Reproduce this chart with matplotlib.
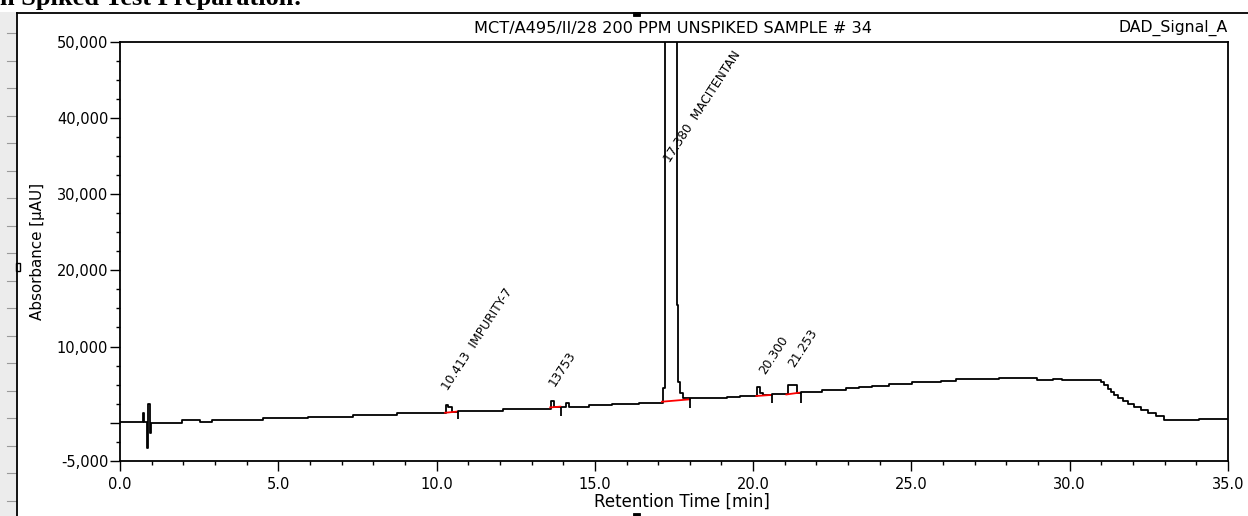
import numpy as np
import matplotlib
matplotlib.use('Agg')
from matplotlib import pyplot as plt
from matplotlib.patches import Rectangle

###########################################################

# DAD signal, read as step points (time in min, signal in uAU)
time_min = [0.00, 0.74, 0.77, 0.86, 0.90, 0.96, 0.99, 1.95, 2.53, 2.90,
            4.53, 5.95, 7.37, 8.75, 9.80, 10.30, 10.36, 10.48, 10.67, 12.10,
            13.63, 13.70, 14.10, 14.17, 14.80, 15.55, 16.38, 17.15, 17.23, 17.58,
            17.62, 17.70, 17.80, 19.18, 19.60, 20.13, 20.22, 20.32, 20.60, 21.10,
            21.39, 21.50, 22.18, 22.92, 23.33, 23.76, 24.28, 25.03, 25.92, 26.40,
            27.76, 28.98, 29.46, 29.77, 30.98, 31.08, 31.20, 31.30, 31.39, 31.52,
            31.68, 31.84, 32.03, 32.25, 32.47, 32.72, 32.98, 34.08, 35.00]
signal_uau = [40, 1220, 40, -3340, 2440, -1300, -100, 340, 40, 340,
              560, 780, 1000, 1220, 1300, 2310, 2090, 1430, 1560, 1750,
              2880, 2090, 2540, 2090, 2310, 2440, 2610, 4500, 60000, 15400,
              5370, 3850, 3190, 3400, 3530, 4640, 3930, 3630, 3760, 4940,
              3930, 4060, 4280, 4510, 4720, 4850, 5070, 5300, 5510, 5690,
              5820, 5600, 5770, 5600, 5340, 4940, 4420, 4020, 3630, 3230,
              2840, 2440, 2050, 1660, 1260, 870, 340, 470, 470]

# integration baselines under each peak (start t, start v, end t, end v)
base_t0 = [10.27, 13.59, 17.12, 20.10, 21.05]
base_v0 = [1300, 2000, 2750, 3500, 3700]
base_t1 = [10.65, 13.91, 18.00, 20.55, 21.45]
base_v1 = [1450, 2100, 3060, 3630, 3930]

# peak end markers
mark_t = [10.67, 13.93, 17.99, 20.60, 21.50]
mark_top = [1560, 2090, 3190, 3760, 4060]
mark_bot = [430, 870, 1880, 2610, 2610]

# peak annotations
peak_names = ['10.413  IMPURITY-7', '13753', '17.380  MACITENTAN', '20.300', '21.253']
peak_lab_t = [10.43, 13.81, 17.44, 20.45, 21.37]
peak_lab_v = [3890, 4510, 33850, 6030, 6910]

xticks = [0, 5, 10, 15, 20, 25, 30, 35]
xticklabels = ['0.0', '5.0', '10.0', '15.0', '20.0', '25.0', '30.0', '35.0']
yticks = [-5000, 0, 10000, 20000, 30000, 40000, 50000]
yticklabels = ['-5,000', '', '10,000', '20,000', '30,000', '40,000', '50,000']

title = 'MCT/A495/II/28 200 PPM UNSPIKED SAMPLE # 34'
channel = 'DAD_Signal_A'

###########################################################

W, H = 1248, 516
fig = plt.figure(figsize=(W/100, H/100), dpi=100)

# page layer in pixel coords
bg = fig.add_axes([0, 0, 1, 1])
bg.set_xlim(0, W)
bg.set_ylim(H, 0)
bg.axis('off')

bg.text(0, 5, 'n Spiked Test Preparation:', family='Liberation Serif', fontweight='bold',
        fontsize=19, ha='left', va='baseline')

bg.add_patch(Rectangle((0, 12), 16, H-12, facecolor='#ececec', edgecolor='none'))
for yy in np.arange(33.3, H, 27.5):
    bg.plot([7, 16], [yy, yy], color='#9a9a9a', lw=0.8)
bg.plot([17, 17], [13, H], color='black', lw=1.3)
bg.plot([17, W], [13, 13], color='black', lw=1.3)
bg.add_patch(Rectangle((633, 12), 7, 4, facecolor='black', edgecolor='black', lw=0.6))
bg.add_patch(Rectangle((16, 263), 4, 8, facecolor='white', edgecolor='black', lw=1.0))
bg.add_patch(Rectangle((633, 513), 7, 4, facecolor='black', edgecolor='black', lw=0.6))

bg.text(673.5, 28, title, fontsize=11.6, ha='center', va='center')
bg.text(1228, 28, channel, fontsize=11.3, ha='right', va='center')
bg.text(38, 251, 'Absorbance [µAU]', fontsize=10.9, rotation=90, ha='center', va='center')
bg.text(681.5, 502, 'Retention Time [min]', fontsize=12, ha='center', va='center')

# chromatogram
ax = fig.add_axes([120/W, 1-460.7/H, (1228-120)/W, (460.7-42)/H])
ax.plot(time_min, signal_uau, drawstyle='steps-post', color='black', lw=1.3)
for i in range(len(base_t0)):
    ax.plot([base_t0[i], base_t1[i]], [base_v0[i], base_v1[i]], color='red', lw=1.3)
ax.vlines(mark_t, mark_bot, mark_top, color='black', lw=1.3)
for i in range(len(peak_names)):
    ax.text(peak_lab_t[i], peak_lab_v[i], peak_names[i], rotation=57, rotation_mode='anchor',
            ha='left', va='bottom', fontsize=8.8)

ax.set_xlim(0, 35)
ax.set_ylim(-5000, 50000)
ax.set_xticks(xticks)
ax.set_xticklabels(xticklabels)
ax.set_yticks(yticks)
ax.set_yticklabels(yticklabels)
ax.set_xticks(np.arange(0, 36, 1), minor=True)
ax.set_yticks(np.arange(-5000, 50001, 2500), minor=True)
ax.tick_params(which='major', direction='out', length=7, width=1.0, labelsize=10.5)
ax.tick_params(axis='y', which='major', pad=1.5)
ax.tick_params(axis='x', which='major', pad=4.5)
ax.tick_params(which='minor', direction='out', length=3, width=1.0)
for s in ax.spines.values():
    s.set_linewidth(1.3)

plt.savefig('out.png', dpi=100)
